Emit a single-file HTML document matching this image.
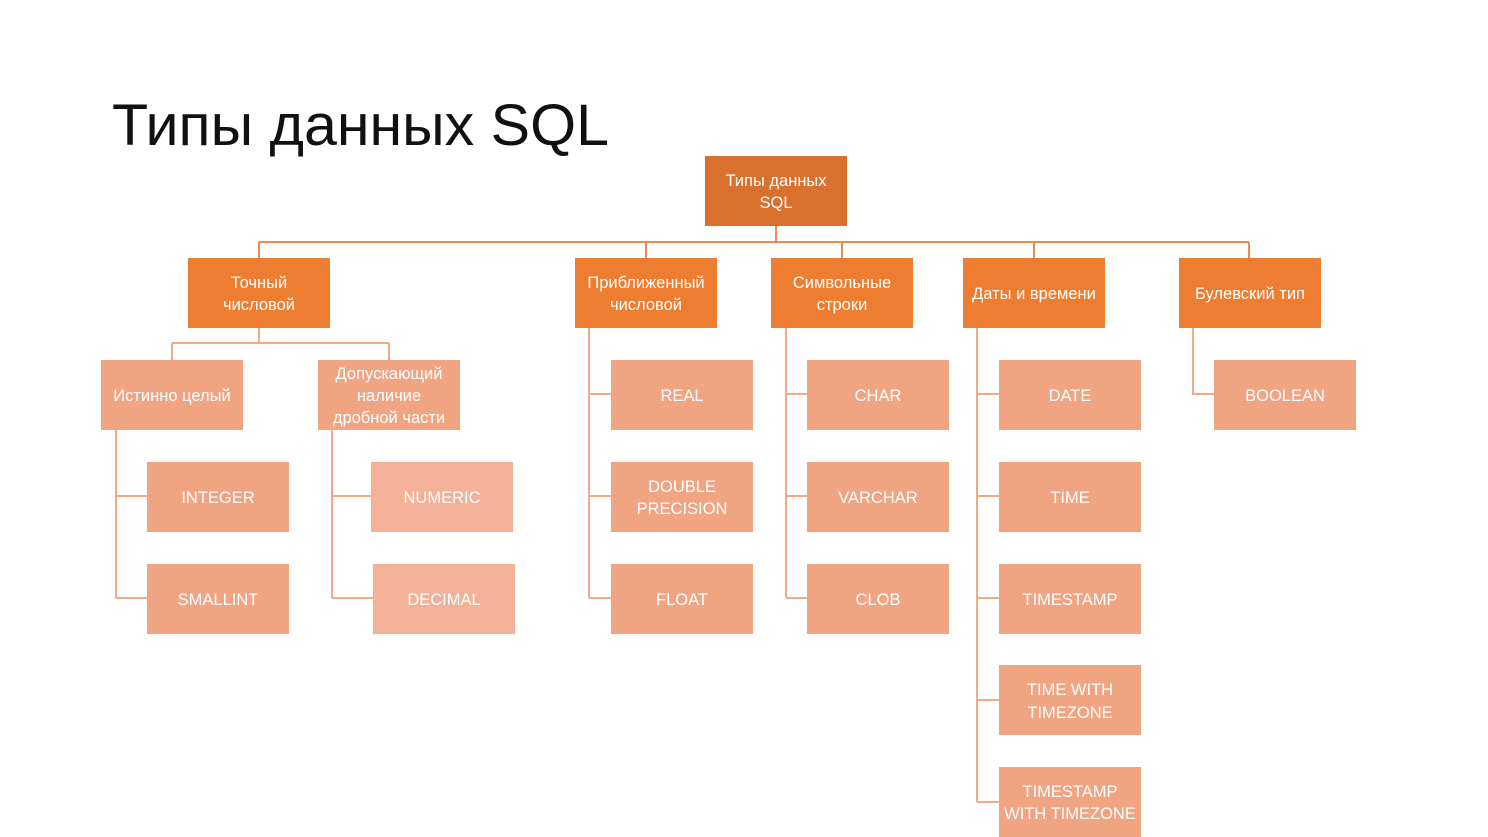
<!DOCTYPE html>
<html><head><meta charset="utf-8"><style>
html,body{margin:0;padding:0;background:#fff;width:1488px;height:837px;overflow:hidden}
svg text{font-family:"Liberation Sans",sans-serif;fill:#fff;font-size:16.5px;text-anchor:middle}
</style></head><body>
<svg width="1488" height="837" viewBox="0 0 1488 837">
<text x="112" y="145" textLength="497" lengthAdjust="spacingAndGlyphs" style="font-size:58px;fill:#111;text-anchor:start;font-weight:300">Типы данных SQL</text>
<g stroke="#EE8B54" stroke-width="2" fill="none">
<path d="M776 226V242M259 242H1249M259 242V258M646 242V258M842 242V258M1034 242V258M1249 242V258"/>
</g>
<g stroke="#F2A98A" stroke-width="2" fill="none">
<path d="M259 328V343M172 343H389M172 343V360M389 343V360"/>
<path d="M116 430V598M116 496H147M116 598H147"/>
<path d="M332 430V598M332 496H371M332 598H373"/>
<path d="M589 328V598M589 394H611M589 496H611M589 598H611"/>
<path d="M786 328V598M786 394H807M786 496H807M786 598H807"/>
<path d="M977 328V802M977 394H999M977 496H999M977 598H999M977 700H999M977 802H999"/>
<path d="M1193 328V394H1214"/>
</g>
<rect x="705" y="156" width="142" height="70" fill="#D9702E"/>
<g fill="#ED7D31">
<rect x="188" y="258" width="142" height="70"/>
<rect x="575" y="258" width="142" height="70"/>
<rect x="771" y="258" width="142" height="70"/>
<rect x="963" y="258" width="142" height="70"/>
<rect x="1179" y="258" width="142" height="70"/>
</g>
<g fill="#F1A482">
<rect x="101" y="360" width="142" height="70"/>
<rect x="318" y="360" width="142" height="70"/>
<rect x="147" y="462" width="142" height="70"/>
<rect x="147" y="564" width="142" height="70"/>
<rect x="611" y="360" width="142" height="70"/>
<rect x="611" y="462" width="142" height="70"/>
<rect x="611" y="564" width="142" height="70"/>
<rect x="807" y="360" width="142" height="70"/>
<rect x="807" y="462" width="142" height="70"/>
<rect x="807" y="564" width="142" height="70"/>
<rect x="999" y="360" width="142" height="70"/>
<rect x="999" y="462" width="142" height="70"/>
<rect x="999" y="564" width="142" height="70"/>
<rect x="999" y="665" width="142" height="70"/>
<rect x="999" y="767" width="142" height="70"/>
<rect x="1214" y="360" width="142" height="70"/>
</g>
<g fill="#F3B298">
<rect x="371" y="462" width="142" height="70"/>
<rect x="373" y="564" width="142" height="70"/>
</g>
<text x="776" y="186">Типы данных</text><text x="776" y="208">SQL</text>
<text x="259" y="288">Точный</text><text x="259" y="310">числовой</text>
<text x="646" y="288">Приближенный</text><text x="646" y="310">числовой</text>
<text x="842" y="288">Символьные</text><text x="842" y="310">строки</text>
<text x="1034" y="299">Даты и времени</text>
<text x="1250" y="299">Булевский тип</text>
<text x="172" y="401">Истинно целый</text>
<text x="389" y="379">Допускающий</text><text x="389" y="401">наличие</text><text x="389" y="423">дробной части</text>
<text x="218" y="503">INTEGER</text>
<text x="218" y="605">SMALLINT</text>
<text x="442" y="503">NUMERIC</text>
<text x="444" y="605">DECIMAL</text>
<text x="682" y="401">REAL</text>
<text x="682" y="492">DOUBLE</text><text x="682" y="514">PRECISION</text>
<text x="682" y="605">FLOAT</text>
<text x="878" y="401">CHAR</text>
<text x="878" y="503">VARCHAR</text>
<text x="878" y="605">CLOB</text>
<text x="1070" y="401">DATE</text>
<text x="1070" y="503">TIME</text>
<text x="1070" y="605">TIMESTAMP</text>
<text x="1070" y="695">TIME WITH</text><text x="1070" y="718">TIMEZONE</text>
<text x="1070" y="797">TIMESTAMP</text><text x="1070" y="819">WITH TIMEZONE</text>
<text x="1285" y="401">BOOLEAN</text>
</svg>
</body></html>
